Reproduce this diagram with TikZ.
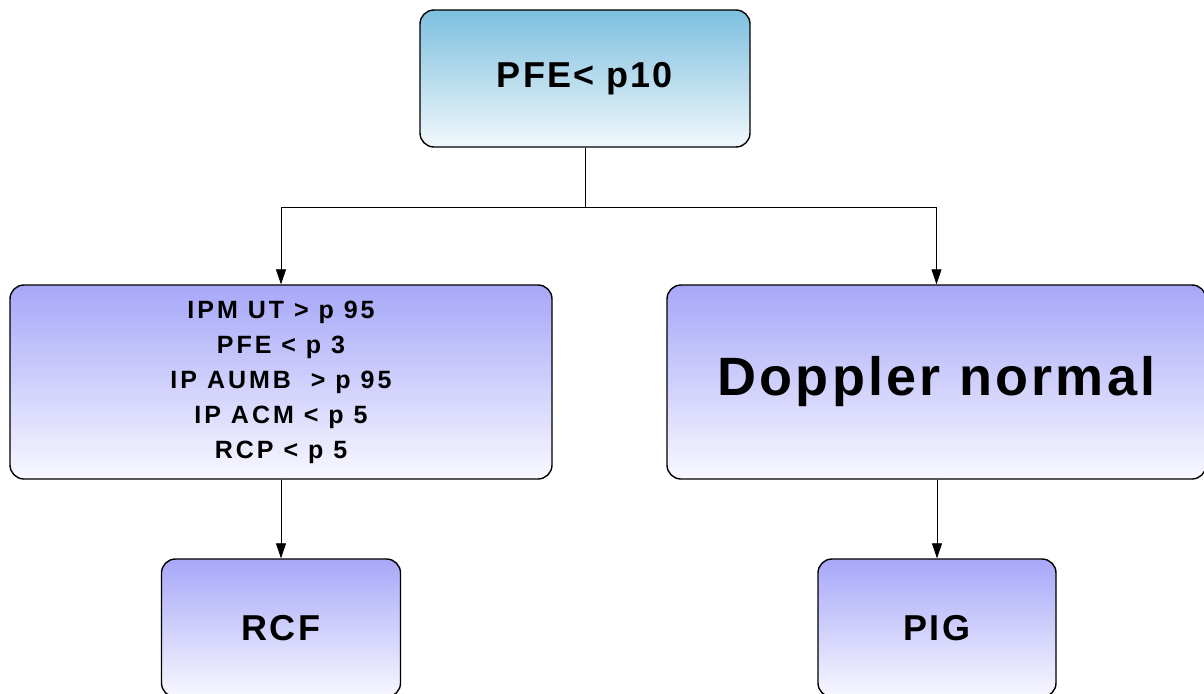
\documentclass[tikz,border=0pt]{standalone}
\usepackage{fontspec}
\setmainfont{Liberation Sans}
\newfontfamily\widefont[LetterSpace=6]{Liberation Sans}
\newfontfamily\widerfont[LetterSpace=12]{Liberation Sans}
\usepackage{tikz}
\usetikzlibrary{arrows.meta}
\definecolor{sky}{HTML}{7DBFDF}
\definecolor{skylow}{HTML}{F2F8FC}
\definecolor{lilac}{HTML}{A7A7F9}
\definecolor{lilaclow}{HTML}{F8F8FF}
\newcommand{\boxfont}[2]{\widefont\bfseries\fontsize{#1}{#2}\selectfont}
\tikzset{
  box/.style={draw=black, line width=1.4pt, rounded corners=14pt, inner sep=0pt,
    align=center, top color=lilac, bottom color=lilaclow},
  root/.style={box, top color=sky, bottom color=skylow},
  link/.style={draw=black, line width=0.8pt, -{Triangle[width=10pt,length=15pt]}}
}

\begin{document}
\begin{tikzpicture}[x=1pt,y=-1pt]
\useasboundingbox (0,0) rectangle (1204,693);
\clip (0,0) rectangle (1204,693);

\node[root, minimum width=330pt, minimum height=137pt, font=\boxfont{36}{40}] (pfe) at (585,78.5)
  {PFE< p10};
\node[box, minimum width=542pt, minimum height=194pt,
  font=\widerfont\bfseries\fontsize{25}{35}\selectfont] (crit) at (281,382)
  {IPM UT > p 95\\ PFE < p 3\\ IP AUMB \ > p 95\\ IP ACM < p 5\\ RCP < p 5};
\node[box, minimum width=539pt, minimum height=194pt, font=\boxfont{54}{60}] (dop) at (936.5,382)
  {Doppler normal};
\node[box, minimum width=239pt, minimum height=138pt, font=\boxfont{36}{40}] (rcf) at (281,628)
  {RCF};
\node[box, minimum width=238pt, minimum height=138pt, font=\boxfont{36}{40}] (pig) at (937,628)
  {PIG};

\coordinate (split) at (585,207);
\draw[line width=0.8pt] (pfe.south) -- (split);
\draw[link] (split) -| (crit.north);
\draw[link] (split) -| (dop.north);
\draw[link] (crit.south) -- (rcf.north);
\draw[link] (dop.south -| pig.north) -- (pig.north);
\end{tikzpicture}
\end{document}
